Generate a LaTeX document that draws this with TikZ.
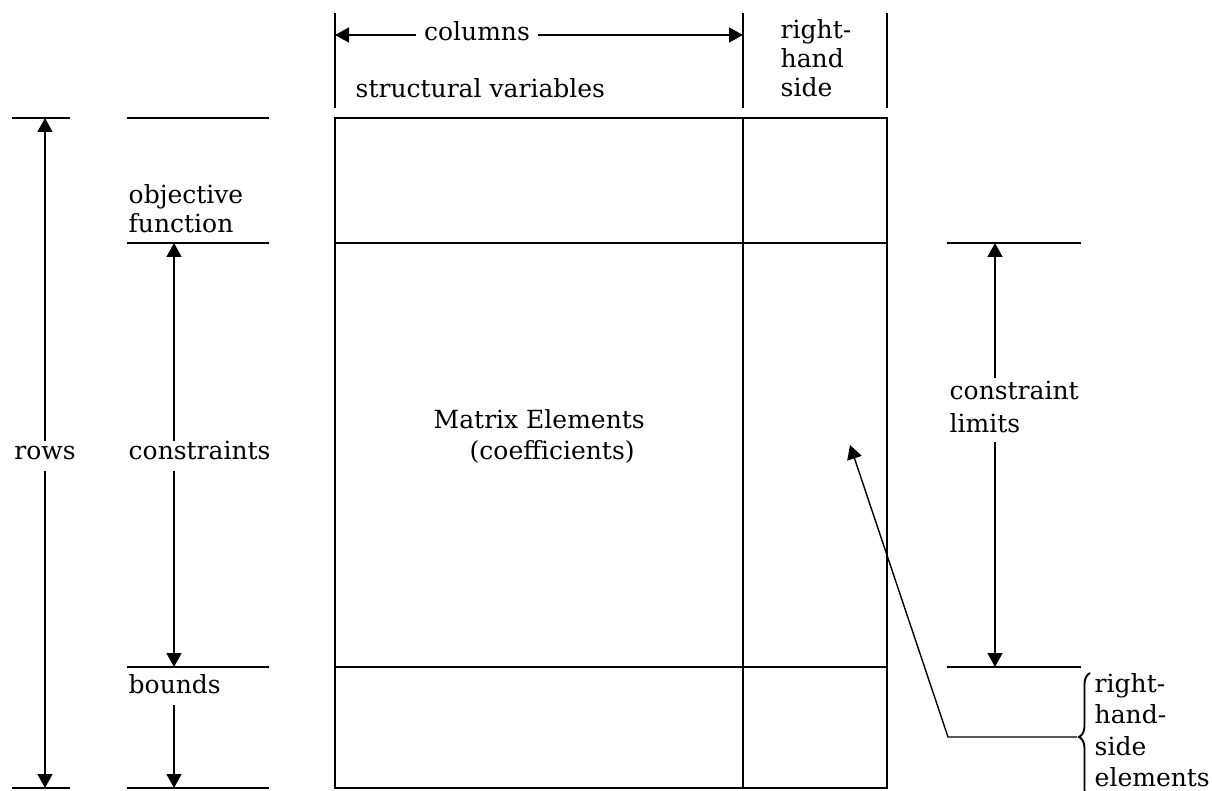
\documentclass[tikz,border=0pt]{standalone}
\usepackage{fontspec}
\setmainfont{DejaVu Serif}
\usetikzlibrary{arrows.meta,decorations.pathreplacing}
\newcommand{\stk}[1]{\vtop{\halign{##\hfil\cr#1\crcr}}}
\begin{document}
\begin{tikzpicture}[x=1pt,y=-1pt,
  line width=1.4pt,
  every node/.style={inner sep=0pt, font=\fontsize{25}{30}\selectfont},
  arr/.style={-{Triangle[width=15pt,length=14pt]}},
  lbl/.style={text height=15pt,text depth=9pt,inner ysep=2pt},
  bracestyle/.style={decorate, decoration={brace, amplitude=11pt, aspect=0.5}, line width=1.9pt}]
\useasboundingbox (0,0) rectangle (1212,791);
% header
\draw (335,13) -- (335,108);
\draw (743,13) -- (743,108);
\draw (887,13) -- (887,108);
\coordinate (cL) at (335,35);
\coordinate (cR) at (743,35);
\node[anchor=base, inner xsep=7pt] (col) at (477,41) {columns};
\draw[arr] (col.west |- cL) -- (cL);
\draw[arr] (col.east |- cR) -- (cR);
\node[anchor=base west, font=\fontsize{25}{29}\selectfont] (rhs) at (780,39) {\stk{right-\cr hand\cr side}};
\node[anchor=base west] (sv) at (355,98) {structural variables};
% matrix
\draw (335,118) rectangle (887,788);
\draw (743,118) -- (743,788);
\draw (335,243) -- (887,243);
\draw (335,667) -- (887,667);
\node[anchor=base west, font=\fontsize{25}{31}\selectfont] (me) at (433,428) {\stk{Matrix Elements\cr\kern36pt(coefficients)}};
% rows
\draw (12,118) -- (70,118);
\draw (12,788) -- (70,788);
\coordinate (rT) at (45,118);
\coordinate (rB) at (45,788);
\node[lbl, anchor=base] (rows) at (45,459) {rows};
\draw[arr] (rows.north) -- (rT);
\draw[arr] (rows.south) -- (rB);
% second group
\draw (127,118) -- (269,118);
\draw (127,243) -- (269,243);
\draw (127,667) -- (269,667);
\draw (127,788) -- (269,788);
\node[anchor=base west, font=\fontsize{25}{29}\selectfont] (obj) at (128,204) {\stk{objective\cr function}};
\coordinate (cT) at (174,243);
\coordinate (cB) at (174,667);
\node[lbl, anchor=base west] (cons) at (128,459) {constraints};
\draw[arr] (cons.north -| cT) -- (cT);
\draw[arr] (cons.south -| cB) -- (cB);
\node[lbl, anchor=base west] (bnd) at (128,693) {bounds};
\coordinate (bB) at (174,788);
\draw[arr] (bnd.south -| bB) -- (bB);
% right
\draw (947,243) -- (1081,243);
\draw (947,667) -- (1081,667);
\coordinate (lT) at (995,243);
\coordinate (lB) at (995,667);
\node[anchor=base west, font=\fontsize{25}{33}\selectfont, text height=20pt, text depth=42pt] (lim) at (949,399) {\stk{constraint\cr limits}};
\draw[arr] (lim.north -| lT) -- (lT);
\draw[arr] (lim.south -| lB) -- (lB);
% brace and pointer
\coordinate (brB) at (1090,801);
\coordinate (brT) at (1090,673);
\coordinate (bc) at (1077,737);
\draw[bracestyle] (brB) -- (brT);
\node[anchor=base west, font=\fontsize{25}{31.5}\selectfont] (rhe) at (1094,692) {\stk{right-\cr hand-\cr side\cr elements}};
\coordinate (pb) at (948,737);
\coordinate (tip) at (850,445);
\draw[arr] (bc) -- (pb) -- (tip);
\end{tikzpicture}
\end{document}
